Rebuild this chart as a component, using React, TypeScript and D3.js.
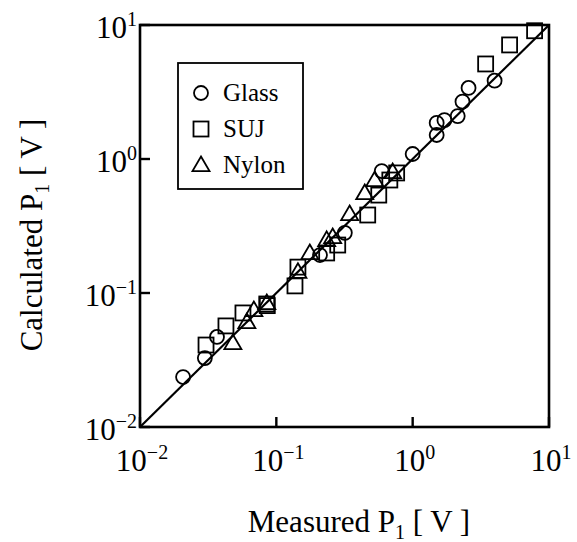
import React from "react";
import * as d3 from "d3";

// Measured vs calculated P1 [V]
const glassMeasured = [0.0207, 0.0299, 0.0367, 0.209, 0.318, 0.593, 1.0, 1.5, 1.5, 1.71, 2.14, 2.32, 2.57, 3.99];
const glassCalculated = [0.0236, 0.0327, 0.047, 0.192, 0.281, 0.813, 1.09, 1.51, 1.86, 1.95, 2.09, 2.68, 3.39, 3.84];

const sujMeasured = [7.84, 5.14, 3.43, 0.763, 0.68, 0.564, 0.468, 0.282, 0.234, 0.144, 0.137, 0.0851, 0.0858, 0.0569, 0.0427, 0.0305];
const sujCalculated = [9.06, 7.1, 5.12, 0.787, 0.697, 0.538, 0.382, 0.228, 0.199, 0.156, 0.113, 0.0828, 0.0805, 0.071, 0.0568, 0.0409];

const nylonMeasured = [0.713, 0.527, 0.445, 0.345, 0.259, 0.234, 0.176, 0.144, 0.0851, 0.0684, 0.0608, 0.048];
const nylonCalculated = [0.8, 0.697, 0.557, 0.389, 0.262, 0.249, 0.199, 0.144, 0.0841, 0.0747, 0.0608, 0.0424];

const tickValues = [0.01, 0.1, 1, 10];
const tickExponents = ["−2", "−1", "0", "1"];
const legendLabels = ["Glass", "SUJ", "Nylon"];

const W = 577;
const H = 542;
const FONT = "'Liberation Serif', 'Times New Roman', serif";

const x = d3.scaleLog().domain([0.01, 10]).range([140, 549]);
const y = d3.scaleLog().domain([0.01, 10]).range([427, 25]);

type Kind = "circle" | "square" | "triangle";

function Marker({ kind, cx, cy }: { kind: Kind; cx: number; cy: number }) {
  const common = { fill: "none", stroke: "#000", strokeWidth: 1.8 };
  if (kind === "circle") return <circle cx={cx} cy={cy} r={7} {...common} />;
  if (kind === "square") return <rect x={cx - 7.5} y={cy - 7.5} width={15} height={15} {...common} />;
  const s = 8.5;
  const p = `M${cx},${cy - s} L${cx + s},${cy + s * 0.72} L${cx - s},${cy + s * 0.72} Z`;
  return <path d={p} {...common} strokeLinejoin="miter" />;
}

export default function App() {
  const [x0, x1] = x.range();
  const [y0, y1] = y.range();
  const series: { kind: Kind; xs: number[]; ys: number[] }[] = [
    { kind: "circle", xs: glassMeasured, ys: glassCalculated },
    { kind: "square", xs: sujMeasured, ys: sujCalculated },
    { kind: "triangle", xs: nylonMeasured, ys: nylonCalculated },
  ];
  const lineGen = d3.line<number>().x((d) => x(d)).y((d) => y(d));
  const legendKinds: Kind[] = ["circle", "square", "triangle"];

  return (
    <svg width={W} height={H} style={{ display: "block", position: "absolute", left: 0, top: 0, background: "#fff" }} fontFamily={FONT}>
      <rect width={W} height={H} fill="#fff" />
      {/* y = x reference line */}
      <path d={lineGen([0.01, 10]) ?? ""} stroke="#000" strokeWidth={2.2} fill="none" />

      {series.map((s) =>
        s.xs.map((v, i) => <Marker key={s.kind + i} kind={s.kind} cx={x(v)} cy={y(s.ys[i])} />)
      )}

      {/* frame */}
      <rect x={x0} y={y1} width={x1 - x0} height={y0 - y1} fill="none" stroke="#000" strokeWidth={2.6} />

      {/* ticks */}
      {tickValues.map((t) => (
        <g key={"t" + t}>
          <line x1={x(t)} x2={x(t)} y1={y0} y2={y0 - 10} stroke="#000" strokeWidth={2.4} />
          <line x1={x0} x2={x0 + 10} y1={y(t)} y2={y(t)} stroke="#000" strokeWidth={2.4} />
        </g>
      ))}

      {/* x tick labels */}
      {tickValues.map((t, i) => (
        <text key={"xl" + t} x={x(t) + 2} y={471} textAnchor="middle" fontSize={31}>
          10<tspan dy={-12} fontSize={20}>{tickExponents[i]}</tspan>
        </text>
      ))}
      {/* y tick labels */}
      {tickValues.map((t, i) => (
        <text key={"yl" + t} x={137} y={y(t) + 13} textAnchor="end" fontSize={31}>
          10<tspan dy={-12} fontSize={20}>{tickExponents[i]}</tspan>
        </text>
      ))}

      {/* axis titles */}
      <text x={359} y={532} textAnchor="middle" fontSize={31}>
        Measured P<tspan dy={7} fontSize={20}>1</tspan><tspan dy={-7}> [ V ]</tspan>
      </text>
      <text transform="translate(42,235) rotate(-90)" textAnchor="middle" fontSize={31}>
        Calculated P<tspan dy={7} fontSize={20}>1</tspan><tspan dy={-7}> [ V ]</tspan>
      </text>

      {/* legend */}
      <rect x={178} y={63} width={125} height={126} fill="#fff" stroke="#000" strokeWidth={1.8} />
      {legendLabels.map((lab, i) => (
        <g key={lab}>
          <Marker kind={legendKinds[i]} cx={201} cy={93 + i * 36} />
          <text x={223} y={101 + i * 36} fontSize={25}>{lab}</text>
        </g>
      ))}
    </svg>
  );
}
